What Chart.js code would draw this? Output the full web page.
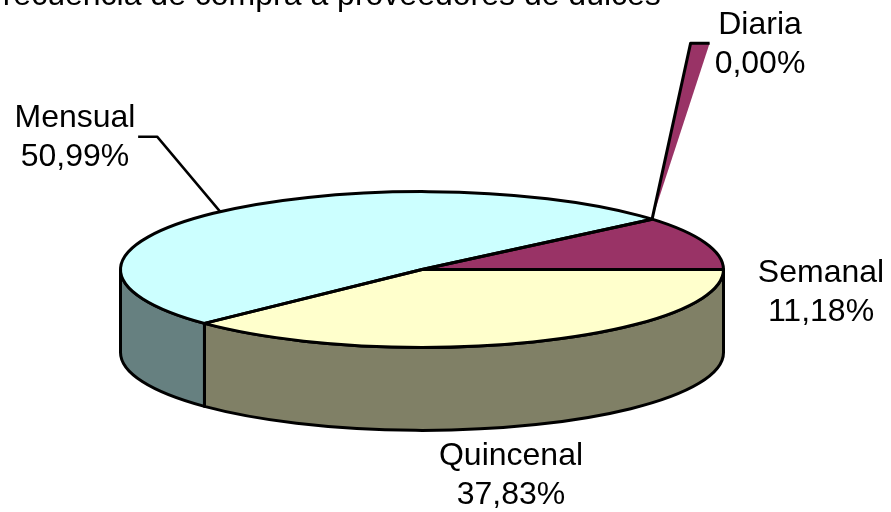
<!DOCTYPE html>
<html>
<head>
<meta charset="utf-8">
<script src="https://cdn.jsdelivr.net/npm/chart.js@4"></script>
<style>
    html, body { margin: 0; padding: 0; background: #fff; }
    canvas { display: block; }
</style>
</head>
<body>
<canvas id="pie" width="891" height="512"></canvas>
<script>
const categories = ['Diaria', 'Semanal', 'Quincenal', 'Mensual'];
const percentages = [0.00, 11.18, 37.83, 50.99];
const titleText = 'Frecuencia de compra a proveedores de dulces';

const topColors = ['#993366', '#993366', '#FFFFCC', '#CCFFFF'];
const wallColors = ['#664466', '#664466', '#808066', '#668080'];

// where each label block is centred: [x, first baseline]
const labelPlaces = [[760, 34], [821, 282], [511, 465], [75, 127]];

const TILT = 0.2583;       // flattening of the disc
const DEPTH = 83;          // height of the side wall
const LINE = 3;
const FONT = '32px "Liberation Sans", Arial, sans-serif';
const LINE_GAP = 38.5;

const tau = Math.PI * 2;

const rimPoint = (arc, angle) => ({
    x: arc.x + arc.outerRadius * Math.cos(angle),
    y: arc.y + arc.outerRadius * TILT * Math.sin(angle)
});

const drawWalls = (ctx, arcs) => {
    arcs.forEach((arc, i) => {
        // only the front half of the rim (0..PI) has a visible wall
        for (const shift of [-tau, 0, tau]) {
            const a0 = Math.max(arc.startAngle + shift, 0);
            const a1 = Math.min(arc.endAngle + shift, Math.PI);
            if (a1 <= a0) continue;
            const rx = arc.outerRadius;
            const ry = rx * TILT;
            ctx.beginPath();
            ctx.ellipse(arc.x, arc.y, rx, ry, 0, a0, a1);
            ctx.ellipse(arc.x, arc.y + DEPTH, rx, ry, 0, a1, a0, true);
            ctx.closePath();
            ctx.fillStyle = wallColors[i];
            ctx.fill();
            ctx.lineWidth = LINE;
            ctx.strokeStyle = '#000';
            ctx.lineJoin = 'round';
            ctx.stroke();
        }
    });
};

const drawRim = (ctx, arcs) => {
    ctx.lineWidth = LINE;
    ctx.strokeStyle = '#000';
    ctx.lineJoin = 'round';
    arcs.forEach((arc) => {
        if (arc.endAngle <= arc.startAngle) return;
        const rx = arc.outerRadius;
        ctx.beginPath();
        ctx.moveTo(arc.x, arc.y);
        ctx.ellipse(arc.x, arc.y, rx, rx * TILT, 0, arc.startAngle, arc.endAngle);
        ctx.closePath();
        ctx.stroke();
    });
};

// The empty slice is pulled far out of the disc, which leaves a thin sliver
const drawSliver = (ctx, arc, color) => {
    const tip = rimPoint(arc, arc.startAngle);
    const top = tip.y - 176;
    const left = tip.x + 38.5;
    const right = tip.x + 57.5;
    ctx.beginPath();
    ctx.moveTo(tip.x, tip.y);
    ctx.lineTo(left, top);
    ctx.lineTo(right, top);
    ctx.closePath();
    ctx.fillStyle = color;
    ctx.fill();
    ctx.beginPath();
    ctx.moveTo(tip.x, tip.y);
    ctx.lineTo(left, top);
    ctx.lineTo(right, top);
    ctx.lineWidth = LINE;
    ctx.strokeStyle = '#000';
    ctx.stroke();
};

const drawLeader = (ctx, arc) => {
    const mid = rimPoint(arc, (arc.startAngle + arc.endAngle) / 2);
    ctx.beginPath();
    ctx.moveTo(mid.x, mid.y);
    ctx.lineTo(mid.x - 63, mid.y - 75);
    ctx.lineTo(mid.x - 82, mid.y - 75);
    ctx.lineWidth = 2.5;
    ctx.strokeStyle = '#000';
    ctx.stroke();
};

const drawLabels = (ctx) => {
    ctx.fillStyle = '#000';
    ctx.font = FONT;
    ctx.textAlign = 'center';
    ctx.textBaseline = 'alphabetic';
    categories.forEach((name, i) => {
        const [x, y] = labelPlaces[i];
        ctx.fillText(name, x, y);
        ctx.fillText(percentages[i].toFixed(2).replace('.', ',') + '%', x, y + LINE_GAP);
    });
    ctx.fillText(titleText, 322, 5);
};

const disc3d = {
    id: 'disc3d',
    beforeDatasetsDraw(chart) {
        const ctx = chart.ctx;
        const arcs = chart.getDatasetMeta(0).data;
        drawWalls(ctx, arcs);
        ctx.save();
        ctx.translate(arcs[0].x, arcs[0].y);
        ctx.scale(1, TILT);
        ctx.translate(-arcs[0].x, -arcs[0].y);
    },
    afterDatasetsDraw(chart) {
        const ctx = chart.ctx;
        const arcs = chart.getDatasetMeta(0).data;
        ctx.restore();
        drawRim(ctx, arcs);
        drawSliver(ctx, arcs[0], topColors[0]);
        drawLeader(ctx, arcs[3]);
        drawLabels(ctx);
    }
};

new Chart(document.getElementById('pie'), {
    type: 'pie',
    data: {
        labels: categories,
        datasets: [{
            data: percentages,
            backgroundColor: topColors,
            borderWidth: 0,
            clip: false
        }]
    },
    options: {
        responsive: false,
        animation: false,
        events: [],
        rotation: 49.75,
        radius: 301.5,
        layout: { padding: { left: 0, right: 47, top: 27, bottom: 0 } },
        plugins: {
            legend: { display: false },
            tooltip: { enabled: false },
            title: { display: false }
        }
    },
    plugins: [disc3d]
});
</script>
</body>
</html>
